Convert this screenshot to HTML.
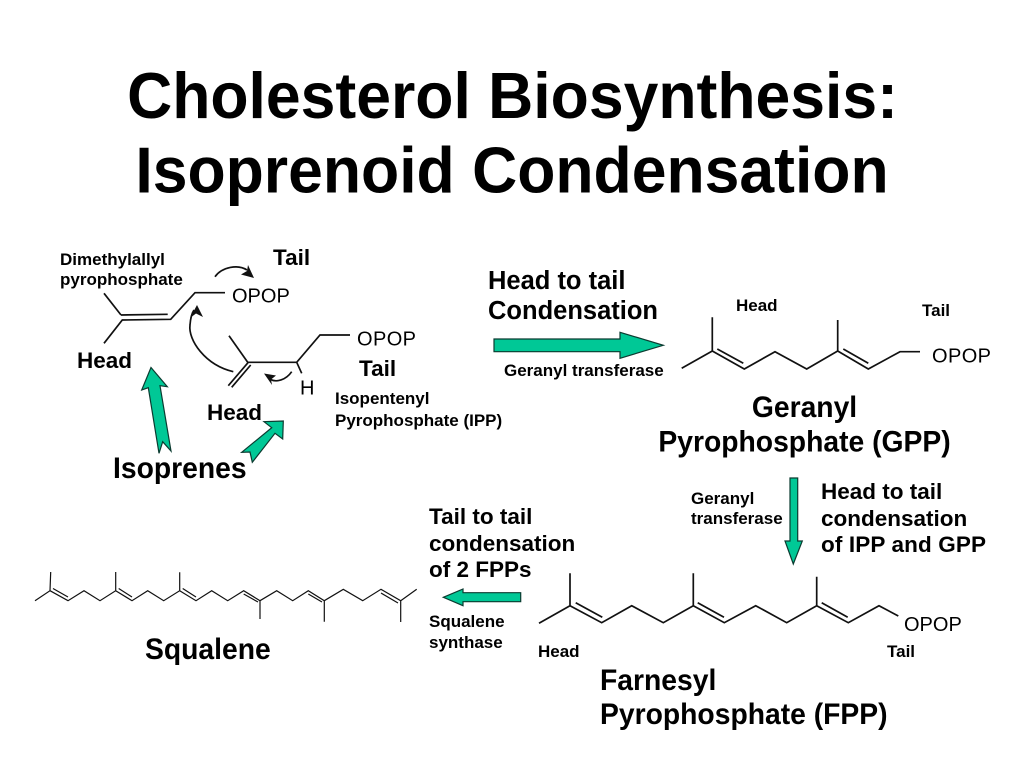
<!DOCTYPE html>
<html><head><meta charset="utf-8"><style>
html,body{margin:0;padding:0;background:#fff}
svg{display:block}
text{font-family:"Liberation Sans",sans-serif;fill:#000}
.l{fill:none;stroke:#111;stroke-width:1.7;stroke-linejoin:miter}
.a{fill:#00c896;stroke:#0b3b30;stroke-width:1.2}
.s{font-size:17px;font-weight:bold}
.m{font-size:22.5px;font-weight:bold}
.g{font-size:25.5px;font-weight:bold}
.h{font-size:28.3px;font-weight:bold}
.o{font-size:20px}
</style></head><body>
<svg width="1024" height="768" viewBox="0 0 1024 768" xmlns="http://www.w3.org/2000/svg">
<text transform="translate(512.5,118) scale(1,1.045)" font-size="62.5" font-weight="bold" text-anchor="middle">Cholesterol Biosynthesis:</text>
<text transform="translate(512,192.5) scale(1,1.045)" font-size="62.5" font-weight="bold" text-anchor="middle">Isoprenoid Condensation</text>

<!-- DMAPP -->
<path class="l" d="M104 293.300L121 315M104 343.300L122.300 320L170.700 319.300L195 292.700L225 292.700M121 315L167.700 314.300"/>
<!-- IPP -->
<path class="l" d="M229 335.700L247.700 362.300L296.700 362.300L320 335L350 335M296.700 362.300L301.700 373.300M248.300 362.300L228.300 385.700M250.700 365L231.700 387.300"/>
<!-- curved arrows -->
<path class="l" d="M233.300 371.700C205 365 188 340 190 325C190.500 318 192 313 194 310"/>
<path fill="#111" d="M197 305L203 317L196 313.500L190 318Z"/>
<path class="l" d="M215 276.700C222 267 238 264 247 270"/>
<path fill="#111" d="M254 278L241 274.500L247 271L248 265Z"/>
<path class="l" d="M291.700 371.700C286 380 276 383 270 379"/>
<path fill="#111" d="M264 373.500L276 375.500L271 379.500L272 385Z"/>

<polygon class="a" points="151,367.500 141.700,390 148.300,387.700 159,453.300 162.700,441.700 171,451 160,385.700 167.300,386.700"/>
<polygon class="a" points="283.300,421 282.700,439 275,433.300 252.300,462.300 250,452 241.700,452.300 271.700,427.700 264,421.700"/>
<polygon class="a" points="494,339 620,339 620,332.300 663.300,345.300 620,358.300 620,351.700 494,351.700"/>
<polygon class="a" points="790,478 797.700,478 797.700,541 802.300,541 793.300,564 785,541 790,541"/>
<polygon class="a" points="443.300,597.300 463,589 463,592.700 520.700,592.700 520.700,601.700 463,601.700 463,605.700"/>

<!-- GPP -->
<path class="l" d="M681.700 368.300L712.300 351L712.300 317.300M712.300 351L744.300 369L775 351.700L806.700 369L837.700 351L837.700 320M837.700 351L868.300 369L900 351.700L920 351.700M717.300 349L743.300 363.300M843.300 349L868.300 363.300"/>
<!-- FPP -->
<path class="l" d="M539 623.300L570 605.700L570 573.300M570 605.700L601.700 622.700L631.700 605.700L663.300 622.700L693.300 605.700L693.300 573.300M693.300 605.700L724.300 622.700L755.700 605.700L786.700 622.700L816.700 605.700L816.700 576.700M816.700 605.700L848.300 622.700L879 605.700L898.300 616M575.700 602.700L602.300 617.300M697.700 602.700L724 617.300M821.700 602.700L847.700 617.300"/>
<!-- Squalene -->
<path class="l" style="stroke-width:1.200" d="M35 600.700L50 590.700L50.700 572M50 590.700L68 600.700L84 590.700L100 600.700L115.700 590.700L115.700 572M115.700 590.700L132 600.700L147.700 590.700L163.700 600.700L179.700 590.700L179.700 572.300M179.700 590.700L196 600.700L211.700 590.700L227.700 600.700L243.700 590.700L260 600.700L260 619M260 600.700L276.700 590.700L292.700 600.700L308.300 590.700L324.300 600.700L324.300 621.700M324.300 600.700L343.300 589.300L362.700 600.700L381 589.300L400.700 600.700L400.700 622M400.700 600.700L416.700 589.300M53 588.500L68 597M118.700 588.500L132 597M182.700 588.500L196 597M243.700 594L258 602M308.300 594L322 602M381 593L398 603"/>

<text class="o" x="232" y="302.500">OPOP</text>
<text class="o" x="357" y="345.500" textLength="59">OPOP</text>
<text class="o" x="932" y="362.500" textLength="59">OPOP</text>
<text class="o" x="904" y="631">OPOP</text>
<text class="o" x="300" y="394.500">H</text>

<text class="s" x="60" y="265">Dimethylallyl</text>
<text class="s" x="60" y="285">pyrophosphate</text>
<text class="m" x="273" y="265">Tail</text>
<text class="m" x="77" y="368">Head</text>
<text class="m" x="359" y="376">Tail</text>
<text class="m" x="207" y="420">Head</text>
<text class="s" x="335" y="404">Isopentenyl</text>
<text class="s" x="335" y="426">Pyrophosphate (IPP)</text>
<text class="h" transform="translate(113,478) scale(1,1.05)">Isoprenes</text>
<text class="g" x="488" y="289">Head to tail</text>
<text class="g" x="488" y="319">Condensation</text>
<text class="s" x="504" y="376">Geranyl transferase</text>
<text class="s" x="736" y="311">Head</text>
<text class="s" x="922" y="316">Tail</text>
<text class="h" transform="translate(804.5,417) scale(1,1.05)" text-anchor="middle">Geranyl</text>
<text class="h" transform="translate(804.5,451.5) scale(1,1.05)" text-anchor="middle">Pyrophosphate (GPP)</text>
<text class="s" x="691" y="504">Geranyl</text>
<text class="s" x="691" y="524">transferase</text>
<text class="m" x="821" y="499">Head to tail</text>
<text class="m" x="821" y="526">condensation</text>
<text class="m" x="821" y="552" textLength="165">of IPP and GPP</text>
<text class="m" x="429" y="524">Tail to tail</text>
<text class="m" x="429" y="551">condensation</text>
<text class="m" x="429" y="577">of 2 FPPs</text>
<text class="s" x="429" y="627">Squalene</text>
<text class="s" x="429" y="648">synthase</text>
<text class="s" x="538" y="657">Head</text>
<text class="s" x="887" y="657">Tail</text>
<text class="h" transform="translate(145,659) scale(1,1.05)">Squalene</text>
<text class="h" transform="translate(600,690) scale(1,1.05)">Farnesyl</text>
<text class="h" transform="translate(600,724) scale(1,1.05)">Pyrophosphate (FPP)</text>
</svg>
</body></html>
